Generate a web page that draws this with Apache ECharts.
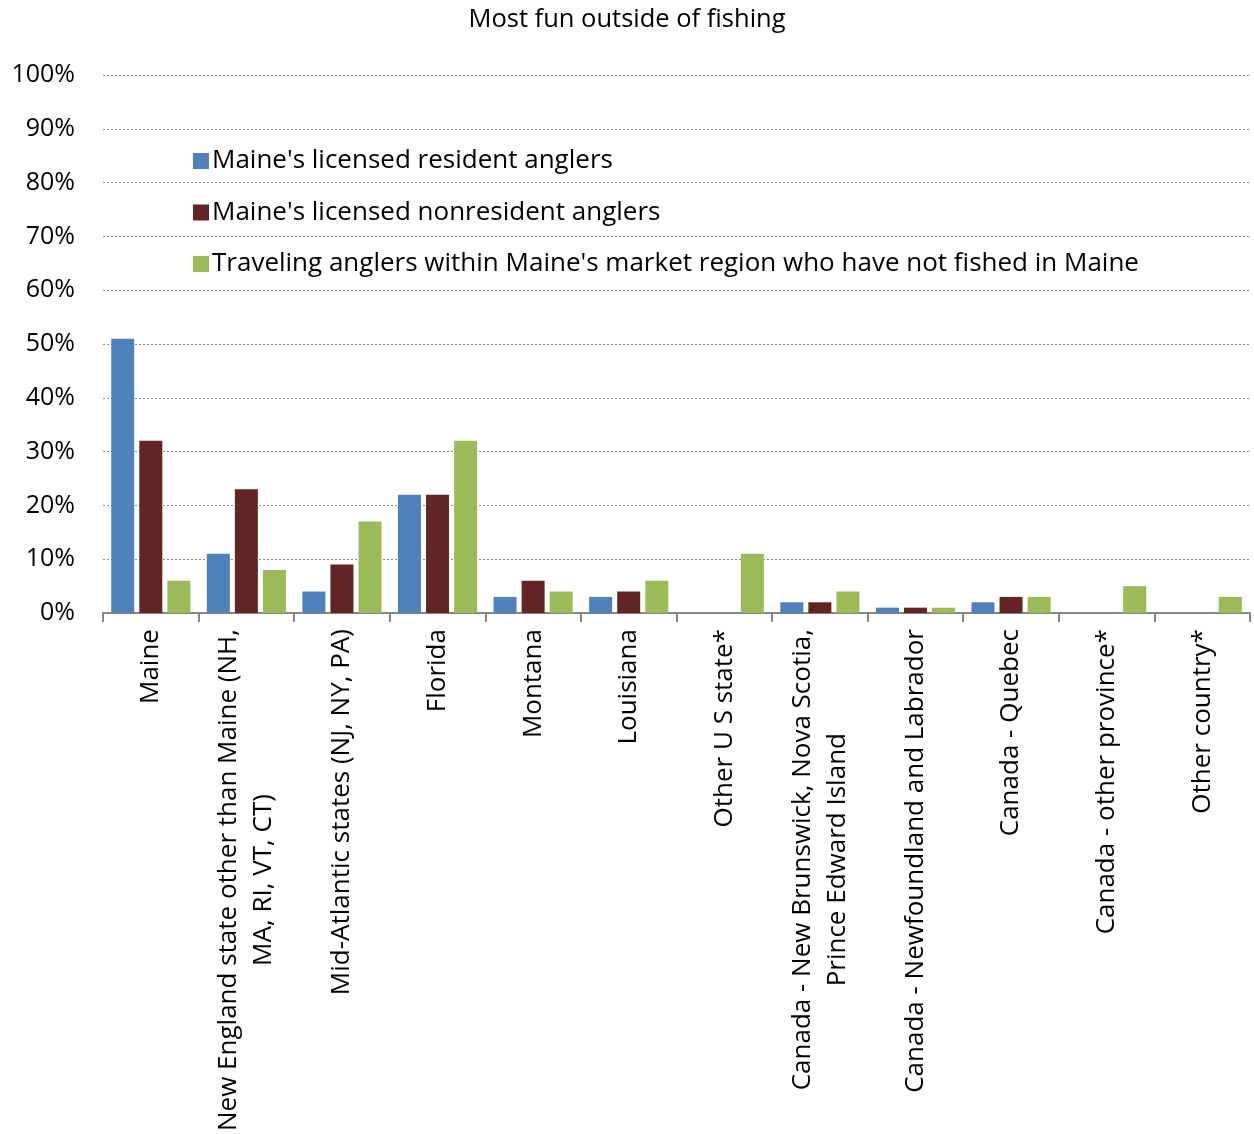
<!DOCTYPE html>
<html>
<head>
<meta charset="utf-8">
<script src="https://cdn.jsdelivr.net/npm/echarts@6/dist/echarts.min.js"></script>
<style>
html,body{margin:0;padding:0;background:#fff;}
#chart{width:1254px;height:1134px;}
</style>
</head>
<body>
<div id="chart"></div>
<script>
const categories = [
  "Maine",
  "New England state other than Maine (NH,\nMA, RI, VT, CT)",
  "Mid-Atlantic states (NJ, NY, PA)",
  "Florida",
  "Montana",
  "Louisiana",
  "Other U S state*",
  "Canada - New Brunswick, Nova Scotia,\nPrince Edward Island",
  "Canada - Newfoundland and Labrador",
  "Canada - Quebec",
  "Canada - other province*",
  "Other country*"
];
const seriesNames = [
  "Maine's licensed resident anglers",
  "Maine's licensed nonresident anglers",
  "Traveling anglers within Maine's market region who have not fished in Maine"
];
const residentValues    = [51, 11, 4, 22, 3, 3, 0, 2, 1, 2, 0, 0];
const nonresidentValues = [32, 23, 9, 22, 6, 4, 0, 2, 1, 3, 0, 0];
const travelingValues   = [6, 8, 17, 32, 4, 6, 11, 4, 1, 3, 5, 3];
const yTicks = [0, 10, 20, 30, 40, 50, 60, 70, 80, 90, 100];
const colors = ["#4F81BD", "#632523", "#9BBB59"];

const chart = echarts.init(document.getElementById('chart'));
const font = "'Open Sans', 'Noto Sans', sans-serif";
const mkSeries = (name, data, color) => ({
  name: name,
  type: 'bar',
  data: data,
  barWidth: 23,
  barGap: '22%',
  itemStyle: { color: color }
});
chart.setOption({
  animation: false,
  textStyle: { fontFamily: font },
  title: {
    text: 'Most fun outside of fishing',
    left: 'center',
    top: 2,
    textStyle: { fontSize: 25.5, fontWeight: 'normal', color: '#000', fontFamily: font }
  },
  legend: {
    orient: 'vertical',
    left: 188,
    top: 139,
    itemGap: 17.5,
    itemWidth: 16,
    itemHeight: 16,
    icon: 'rect',
    textStyle: { fontSize: 26, color: '#000', fontFamily: font, padding: [0, 0, 0, -2], lineHeight: 34 },
    data: seriesNames
  },
  grid: { left: 103, right: 4, top: 75, bottom: 519, containLabel: false },
  xAxis: {
    type: 'category',
    data: categories,
    axisLine: { lineStyle: { color: '#868686', width: 2 } },
    axisTick: { show: true, length: 9, lineStyle: { color: '#868686', width: 2 } },
    axisLabel: {
      rotate: 90,
      interval: 0,
      margin: 16,
      color: '#000',
      fontSize: 26,
      fontFamily: font,
      lineHeight: 35,
      formatter: function (v) {
        return v.split('\n').map(s => '{c|' + s + '}').join('\n');
      },
      rich: { c: { align: 'center', fontSize: 26, color: '#000', fontFamily: font, lineHeight: 35 } }
    }
  },
  yAxis: {
    type: 'value',
    min: 0,
    max: 100,
    interval: 10,
    axisLine: { show: false },
    axisTick: { show: false },
    axisLabel: {
      formatter: function (v) { return yTicks.includes(v) ? v + '%' : ''; },
      color: '#000',
      fontSize: 25,
      margin: 28,
      fontFamily: font
    },
    splitLine: { lineStyle: { color: '#8c8c8c', type: [2, 2], width: 1 } }
  },
  series: [
    mkSeries(seriesNames[0], residentValues, colors[0]),
    mkSeries(seriesNames[1], nonresidentValues, colors[1]),
    mkSeries(seriesNames[2], travelingValues, colors[2])
  ]
});
</script>
</body>
</html>
